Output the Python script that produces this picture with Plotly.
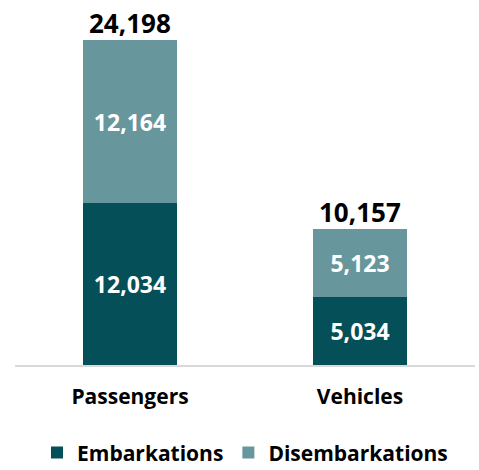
import plotly.graph_objects as go

categories = ["Passengers", "Vehicles"]
embarkations = [12034, 5034]
disembarkations = [12164, 5123]
series_names = ["Embarkations", "Disembarkations"]
totals = [a + b for a, b in zip(embarkations, disembarkations)]

FONT = "Open Sans, sans-serif"
DARK = "#054f58"
LIGHT = "#67979c"

fig = go.Figure()
fig.add_trace(go.Bar(
    x=categories, y=embarkations, name=series_names[0], marker_color=DARK,
    text=[f"{v:,}" for v in embarkations], textposition="inside", insidetextanchor="middle",
    textfont=dict(color="white", size=23, family=FONT, weight="bold"),
    marker_line_width=0,
))
fig.add_trace(go.Bar(
    x=categories, y=disembarkations, name=series_names[1], marker_color=LIGHT,
    text=[f"{v:,}" for v in disembarkations], textposition="inside", insidetextanchor="middle",
    textfont=dict(color="white", size=23, family=FONT, weight="bold"),
    marker_line_width=0,
))
for c, t in zip(categories, totals):
    fig.add_annotation(x=c, y=t, text=f"<b>{t:,}</b>", showarrow=False, yanchor="bottom",
                       yshift=-3, font=dict(size=26, color="black", family=FONT))

fig.update_layout(
    barmode="stack", bargap=0.59,
    width=479, height=470,
    margin=dict(l=15, r=4, t=10, b=105, autoexpand=False),
    plot_bgcolor="white", paper_bgcolor="white",
    font=dict(family=FONT),
    uniformtext=dict(minsize=23, mode="show"),
    legend=dict(orientation="h", x=0.5, xanchor="center", y=-0.19, yanchor="top",
                font=dict(size=21, color="black", family=FONT, weight="bold"),
                itemwidth=30, traceorder="normal"),
    xaxis=dict(showline=True, linecolor="#d9d9d9", linewidth=2, ticks="",
               range=[-0.5, 1.5], automargin=False, ticklabelstandoff=12,
               tickfont=dict(size=21, color="black", family=FONT, weight="bold")),
    yaxis=dict(visible=False, range=[0, 26440]),
    showlegend=True,
)
fig.write_html("out.html", config={"displayModeBar": False},
               post_script="document.body.style.margin='0';document.body.style.overflow='hidden';")
